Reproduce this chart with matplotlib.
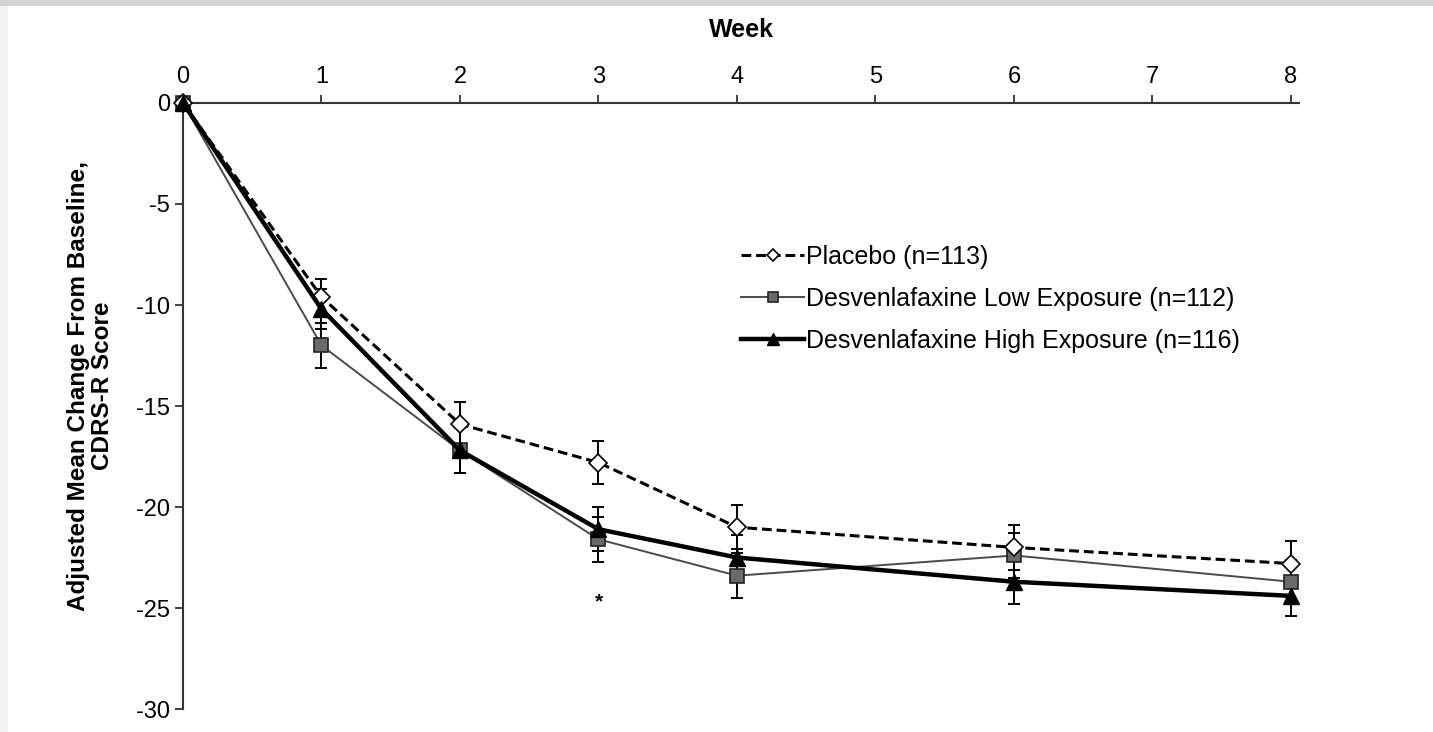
import matplotlib
matplotlib.use("Agg")
import matplotlib.pyplot as plt
from matplotlib.patches import Rectangle

plt.rcParams['font.family'] = ['Liberation Sans', 'DejaVu Sans']
plt.rcParams['axes.unicode_minus'] = False

weeks = [0, 1, 2, 3, 4, 6, 8]
placebo = [0, -9.6, -15.9, -17.8, -21.0, -22.0, -22.8]
placebo_err = [0, 0.9, 1.1, 1.05, 1.1, 1.1, 1.1]
low = [0, -12.0, -17.2, -21.6, -23.4, -22.4, -23.7]
low_err = [0, 1.1, 1.1, 1.1, 1.1, 1.1, 1.1]
high = [0, -10.2, -17.2, -21.1, -22.5, -23.7, -24.4]
high_err = [0, 1.0, 1.1, 1.1, 1.1, 1.1, 1.0]

labels = ["Placebo (n=113)", "Desvenlafaxine Low Exposure (n=112)",
          "Desvenlafaxine High Exposure (n=116)"]
xticks = [0, 1, 2, 3, 4, 5, 6, 7, 8]
yticks = [0, -5, -10, -15, -20, -25, -30]
star_week, star_y = 3, -24.7

fig = plt.figure(figsize=(14.33, 7.32), dpi=100)
fig.patch.set_facecolor('white')
# background frame (grey margins of the screenshot)
fig.patches.append(Rectangle((0, 0), 0.0056, 1, transform=fig.transFigure,
                             facecolor='#f2f2f2', edgecolor='none', zorder=0))
fig.patches.append(Rectangle((0, 0.992), 1, 0.008, transform=fig.transFigure,
                             facecolor='#d4d4d4', edgecolor='none', zorder=0))

ax = fig.add_axes([0.1277, 0.0314, 0.7790, 0.8279])
ax.set_facecolor('none')

for vals, errs in ((placebo, placebo_err), (low, low_err), (high, high_err)):
    ax.errorbar(weeks, vals, yerr=errs, fmt='none', ecolor='black',
                elinewidth=1.4, capsize=4, capthick=1.4, zorder=2, clip_on=False)

ax.plot(weeks, low, color='#4a4a4a', lw=1.4, marker='s', markersize=10,
        markerfacecolor='#6a6a6a', markeredgecolor='#222222', markeredgewidth=1.2,
        label=labels[1], zorder=3, clip_on=False)
ax.plot(weeks, placebo, color='black', lw=2.2, ls=(0, (3.2, 1.6)), marker='D',
        markersize=9, markerfacecolor='white', markeredgecolor='black',
        markeredgewidth=1.2, label=labels[0], zorder=4, clip_on=False)
ax.plot(weeks, high, color='black', lw=3.2, marker='^', markersize=12,
        markerfacecolor='black', markeredgecolor='black',
        label=labels[2], zorder=5, clip_on=False)

ax.text(star_week, star_y, '*', ha='center', va='center', fontsize=15,
        fontweight='bold')

ax.set_xlim(0, 8.06)
ax.set_ylim(-30, 0)
ax.xaxis.set_ticks_position('top')
ax.xaxis.set_label_position('top')
ax.set_xticks(xticks)
ax.set_yticks(yticks)
ax.tick_params(axis='both', labelsize=17, length=6, width=1.3, color='#333333')
ax.tick_params(axis='x', pad=5)
ax.spines['right'].set_visible(False)
ax.spines['bottom'].set_visible(False)
for s in ('left', 'top'):
    ax.spines[s].set_linewidth(1.5)
    ax.spines[s].set_color('#333333')

ax.set_xlabel('Week', fontsize=18, fontweight='bold', labelpad=21)
ax.set_ylabel('Adjusted Mean Change From Baseline,\nCDRS-R Score', fontsize=17.5,
              fontweight='bold', labelpad=14, linespacing=1.05)
ax.yaxis.set_label_coords(-0.062, 0.533)

handles, labs = ax.get_legend_handles_labels()
order = [1, 0, 2]
leg = ax.legend([handles[i] for i in order], [labs[i] for i in order],
                loc='upper left', bbox_to_anchor=(0.48, 0.803), frameon=False,
                fontsize=18, handlelength=2.5, handletextpad=0.1,
                labelspacing=0.72, markerscale=0.7)

fig.savefig('out.png', dpi=100, facecolor=fig.get_facecolor())
